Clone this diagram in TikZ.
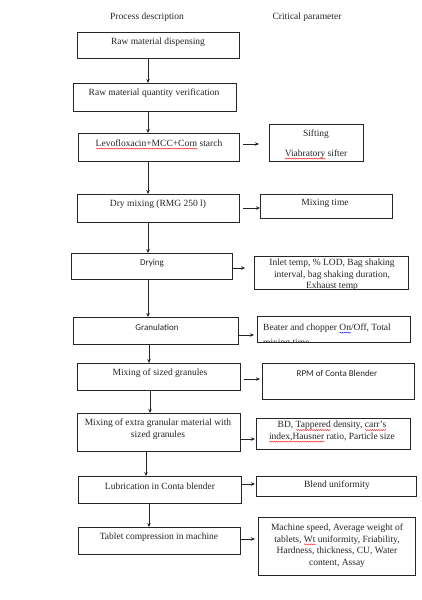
\documentclass[tikz,border=0pt]{standalone}
\usepackage{fontspec}
\setmainfont{Liberation Serif}
\newfontfamily\sansf{Carlito}
\usetikzlibrary{arrows.meta,decorations.pathmorphing}
\newdimen\wvw
\newcommand{\wavy}[2]{\setbox0=\hbox{#2}\wvw=\wd0\relax\leavevmode\rlap{\smash{\raisebox{-3pt}{\tikz[x=1pt,y=1pt]\draw[#1,line width=0.35pt,decorate,decoration={snake,amplitude=0.55pt,segment length=2.2pt}] (0,0) -- (\wvw,0);}}}\box0\relax}
\newcommand{\redwave}[1]{\wavy{red}{#1}}
\newcommand{\bluewave}[1]{\wavy{blue}{#1}}
\tikzset{
  box/.style={draw=black!85, line width=0.7pt, inner sep=0pt, outer sep=0pt, anchor=north west},
  txt/.style={font=\fontsize{9.5}{11.6}\selectfont, inner sep=0pt, align=center, text=black!85},
  stxt/.style={font=\sansf\fontsize{9}{11}\selectfont, inner sep=0pt, align=center, text=black!85},
  arr/.style={draw=black!85, line width=0.65pt, -{Stealth[length=4pt,width=3.5pt]}}
}
\newcommand{\bx}[5]{\node[box, minimum width={#4pt-#2pt}, minimum height={#5pt-#3pt}] (#1) at (#2,#3) {};}
\begin{document}
\begin{tikzpicture}[x=1pt,y=-1pt]
\useasboundingbox (0,0) rectangle (421,600);
\fill[white] (0,0) rectangle (421,600);
% headers
\node[txt] (h1) at (147,17) {Process description};
\node[txt] (h2) at (307,17) {Critical parameter};
% process boxes
\bx{b1}{77}{32}{239}{58}
\bx{b2}{73}{83}{236}{111}
\bx{b3}{78}{133}{239}{161}
\bx{b4}{77}{194}{239}{222}
\bx{b5}{71}{253}{232}{279}
\bx{b6}{73}{317}{238}{344}
\bx{b7}{77}{363}{240}{390}
\bx{b8}{77}{413}{240}{451}
\bx{b9}{78}{476}{241}{503}
\bx{b10}{78}{527}{240}{554}
% parameter boxes
\bx{p3}{269}{124}{363}{161}
\bx{p4}{260}{194}{392}{218}
\bx{p5}{254}{256}{408}{289}
\bx{p6}{257}{316}{410}{342}
\bx{p7}{262}{363}{414}{399}
\bx{p8}{256}{418}{410}{449}
\bx{p9}{256}{476}{416}{496}
\bx{p10}{258}{517}{415}{575}
% process texts
\node[txt] (t1) at (158,42) {Raw material dispensing};
\node[txt] (t2) at (154,93) {Raw material quantity verification};
\node[txt] (t3) at (159,143) {\redwave{Levofloxacin+MCC+Corn} starch};
\node[txt] (t4) at (158,204) {Dry mixing (RMG 250 l)};
\node[stxt] (t5) at (152,263) {Drying};
\node[stxt] (t6) at (157,327) {Granulation};
\node[txt] (t7) at (160,373) {Mixing of sized granules};
\node[txt] (t8) at (158,429) {Mixing of extra granular material with\\sized granules};
\node[txt] (t9) at (160,486) {Lubrication in Conta blender};
\node[txt] (t10) at (159,537) {Tablet compression in machine};
% parameter texts
\node[txt] (q3a) at (316,134) {Sifting};
\node[txt] (q3b) at (316,154) {\redwave{Viabratory} sifter};
\node[txt] (q4) at (325,203) {Mixing time};
\node[txt] (q5) at (332,275) {Inlet temp, \% LOD, Bag shaking\\interval, bag shaking duration,\\Exhaust temp};
\begin{scope}
\clip (p6.south west) rectangle (p6.north east);
\node[txt, font=\fontsize{9.5}{15}\selectfont, align=left, anchor=north west] (q6) at (263,323.5) {Beater and chopper \bluewave{On}/Off, Total\\mixing time};
\end{scope}
\node[stxt] (q7) at (337,373) {RPM of Conta Blender};
\node[txt] (q8) at (332,431) {BD, \redwave{Tappered} density, \redwave{carr’s}\\\redwave{index,Hausner} ratio, Particle size};
\node[txt] (q9) at (337,485) {Blend uniformity};
\node[txt] (q10) at (337,545.5) {Machine speed, Average weight of\\tablets, \redwave{Wt} uniformity, Friability,\\Hardness, thickness, CU, Water\\content, Assay};
% vertical arrows
\draw[arr] (b1.south -| 148,0) -- (b2.north -| 148,0);
\draw[arr] (b2.south -| 148,0) -- (b3.north -| 148,0);
\draw[arr] (b3.south -| 148,0) -- (b4.north -| 148,0);
\draw[arr] (b4.south -| 148,0) -- (b5.north -| 148,0);
\draw[arr] (b5.south -| 148,0) -- (b6.north -| 148,0);
\draw[arr] (b6.south -| 149,0) -- (b7.north -| 149,0);
\draw[arr] (b7.south -| 150,0) -- (b8.north -| 150,0);
\draw[arr] (b8.south -| 146,0) -- (b9.north -| 146,0);
\draw[arr] (b9.south -| 149,0) -- (b10.north -| 149,0);
% horizontal arrows
\draw[arr, shorten <=4pt, shorten >=10pt] (b3.east |- 0,144) -- (p3.west |- 0,144);
\draw[arr, shorten <=4pt] (b4.east |- 0,208) -- (p4.west |- 0,208);
\draw[arr, shorten <=1pt, shorten >=9pt] (b5.east |- 0,268) -- (p5.west |- 0,268);
\draw[arr, shorten <=1pt, shorten >=3pt] (b6.east |- 0,335) -- (p6.west |- 0,335);
\draw[arr, shorten <=4pt, shorten >=2pt] (b7.east |- 0,379) -- (p7.west |- 0,379);
\draw[arr, shorten <=1pt, shorten >=1pt] (b8.east |- 0,439) -- (p8.west |- 0,439);
\draw[arr, shorten >=1pt] (b9.east |- 0,484) -- (p9.west |- 0,484);
\draw[arr, shorten <=1pt, shorten >=3pt] (b10.east |- 0,539) -- (p10.west |- 0,539);
\end{tikzpicture}
\end{document}
